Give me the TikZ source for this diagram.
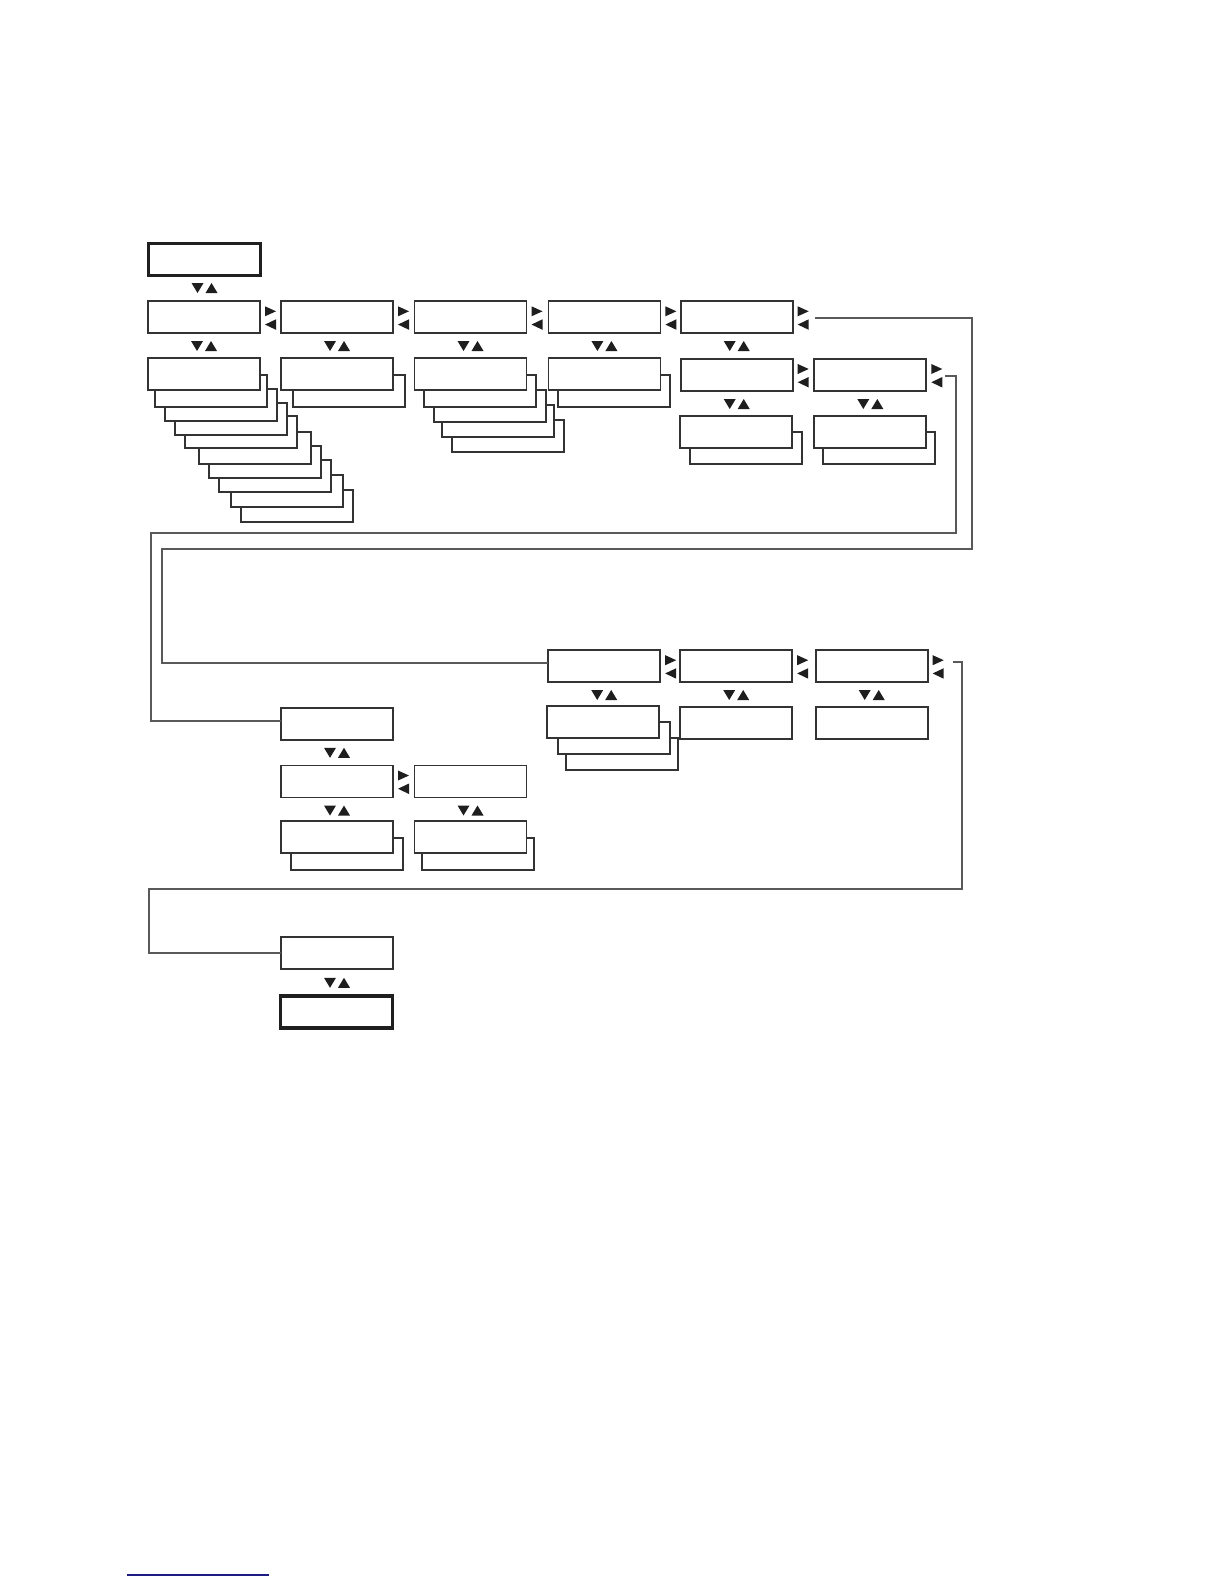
\documentclass[tikz,border=0pt]{standalone}
\definecolor{boxline}{HTML}{333333}
\definecolor{connline}{HTML}{595959}
\definecolor{tri}{HTML}{1E1E1E}
\definecolor{navyline}{HTML}{1C1C82}
\newcommand{\bx}[4][box]{\node[#1] (#2) at (#3,#4) {};}
\begin{document}
\begin{tikzpicture}[x=1pt,y=-1pt,
  box/.style={draw=boxline, line width=1.8pt, fill=white, minimum width=112pt, minimum height=32pt, inner sep=0pt, outer sep=0pt},
  endbox/.style={box, line width=3.2pt, draw=black!88},
  conn/.style={draw=connline, line width=1.8pt},
  updown/.pic={\fill[tri] (-13,-5) -- (-1,-5) -- (-7,5) -- cycle; \fill[tri] (1,5) -- (13,5) -- (7,-5) -- cycle;},
  leftright/.pic={\fill[tri] (-5,-11) -- (6,-6) -- (-5,-1) -- cycle; \fill[tri] (6,2) -- (-5,7.25) -- (6,12.5) -- cycle;}
]
\fill[white] (0,0) rectangle (1224,1584);
\useasboundingbox (0,0) rectangle (1224,1584);

% ---- top section ----
\bx[endbox]{top}{204.5}{259.7}
\pic at (204.5,288) {updown};

% row 1
\bx{ca}{204}{317.3}
\bx{cb}{337}{317.3}
\bx{cc}{470.5}{317.3}
\bx{cd}{604.4}{317.3}
\bx{ce}{736.7}{317.3}
\foreach \x in {204,337,470.5,604.4,736.7} {
  \pic at (\x+66,317.3) {leftright};
  \pic at (\x,346) {updown};
}

% row 2, column 1 stack
\bx{caS9}{297}{506.3}
\bx{caS8}{287}{490.7}
\bx{caS7}{275.3}{476.3}
\bx{caS6}{265.3}{462.3}
\bx{caS5}{255.3}{448.3}
\bx{caS4}{241}{432.3}
\bx{caS3}{231}{418.7}
\bx{caS2}{221}{404.7}
\bx{caS1}{211}{390.7}
\bx{caF}{204}{374.2}

% column 2 stack
\bx{cbS1}{348.7}{390.7}
\bx{cbF}{337}{374.2}

% column 3 stack
\bx{ccS4}{508.3}{436.3}
\bx{ccS3}{498.3}{420.7}
\bx{ccS2}{490.3}{406.3}
\bx{ccS1}{480}{390.7}
\bx{ccF}{470.5}{374.2}

% column 4 stack
\bx{cdS1}{614.3}{390.7}
\bx{cdF}{604.4}{374.2}

% column 5 / 6
\bx{ceA}{736.7}{375}
\bx{cfA}{870.3}{375}
\pic at (736.7+66,375) {leftright};
\pic at (870.3+66,375) {leftright};
\pic at (736.7,404) {updown};
\pic at (870.3,404) {updown};
\bx{ceS1}{746}{448}
\bx{ceB}{736}{432.2}
\bx{cfS1}{879.3}{448.3}
\bx{cfB}{870}{432.2}

% ---- middle section ----
\bx{ma}{604.2}{666.2}
\bx{mb}{736.2}{666.2}
\bx{mc}{871.7}{666.2}
\foreach \x in {604.2,736.2,871.7} {
  \pic at (\x+66,666.2) {leftright};
  \pic at (\x,695) {updown};
}
\bx{maS2}{622}{754}
\bx{maS1}{614.3}{738}
\bx{maF}{603.3}{722}
\bx{mbF}{736.2}{723.3}
\bx{mcF}{871.7}{723.3}

% ---- left lower section ----
\bx{da}{337}{723.6}
\pic at (337,752.8) {updown};
\bx{db}{337}{781.5}
\bx{dc}{470.5}{781.5}
\pic at (337+66,781.5) {leftright};
\pic at (337,810.5) {updown};
\pic at (470.5,810.5) {updown};
\bx{dbS1}{346.7}{854}
\bx{dbF}{337}{837.2}
\bx{dcS1}{478.3}{854}
\bx{dcF}{470.5}{837.2}

% ---- bottom ----
\bx{ea}{337}{952.8}
\pic at (337,982.8) {updown};
\bx[endbox]{eb}{336.5}{1012}

% ---- connectors ----
\coordinate (o1) at (815,318.3);
\coordinate (i1) at (945,376);
\coordinate (t1) at (953.3,662.3);
\draw[conn] (o1) -- (971.7,318.3) -- (971.7,549.3) -- (161.7,549.3) -- (161.7,663.3) -- (ma.west |- 0,663.3);
\draw[conn] (i1) -- (955.7,376) -- (955.7,533.3) -- (151,533.3) -- (151,721) -- (da.west |- 0,721);
\draw[conn] (t1) -- (961.7,662.3) -- (961.7,889) -- (149,889) -- (149,952.8) -- (ea.west);

% footer rule
\draw[navyline, line width=1.5pt] (127,1575) -- (269,1575);
\end{tikzpicture}
\end{document}
